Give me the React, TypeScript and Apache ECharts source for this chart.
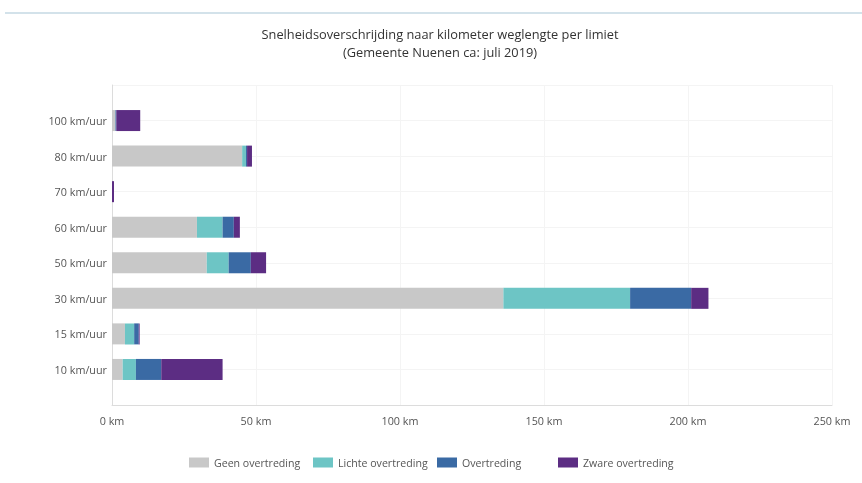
import React, { useEffect, useRef } from "react";
import * as echarts from "echarts";

const categories = ["10 km/uur", "15 km/uur", "30 km/uur", "50 km/uur", "60 km/uur", "70 km/uur", "80 km/uur", "100 km/uur"];
const geen = [3.7, 4.5, 135.9, 32.9, 29.5, 0, 45.2, 1.2];
const lichte = [4.6, 3.2, 44.0, 7.6, 8.9, 0, 1.3, 0];
const overtreding = [8.8, 1.6, 21.2, 7.7, 3.9, 0, 0.4, 0.3];
const zware = [21.3, 0.3, 6.0, 5.3, 2.1, 0.7, 1.7, 8.3];
const xTicks = [0, 50, 100, 150, 200, 250];

const seriesNames = ["Geen overtreding", "Lichte overtreding", "Overtreding", "Zware overtreding"];
const colors = ["#c8c8c8", "#6dc5c5", "#3a6aa4", "#5c2d83"];
const legendLefts = [189, 313, 437, 558];

export default function App() {
  const ref = useRef<HTMLDivElement>(null);
  useEffect(() => {
    if (!ref.current) return;
    const chart = echarts.init(ref.current, null, { renderer: "svg" });
    const font = "'Open Sans', 'Noto Sans', sans-serif";
    const pad = (arr: number[]) => [null, ...arr.map((v) => (v === 0 ? null : v)), null];
    const allData = [geen, lichte, overtreding, zware];
    chart.setOption({
      animation: false,
      textStyle: { fontFamily: font },
      title: {
        text: "Snelheidsoverschrijding naar kilometer weglengte per limiet",
        subtext: "(Gemeente Nuenen ca: juli 2019)",
        left: 440,
        top: 26,
        textAlign: "center",
        itemGap: 2,
        padding: 0,
        textStyle: { fontSize: 12.8, fontWeight: "normal", color: "#333", fontFamily: font, lineHeight: 16 },
        subtextStyle: { fontSize: 12.8, color: "#333", fontFamily: font, lineHeight: 16 },
      },
      legend: seriesNames.map((n, i) => ({
        data: [n],
        left: legendLefts[i],
        top: 457,
        padding: 0,
        itemWidth: 20,
        itemHeight: 10,
        itemGap: 5,
        icon: "rect",
        textStyle: { fontSize: 10.6, color: "#555", fontFamily: font },
      })),
      grid: { left: 112, right: 30, top: 85, bottom: 78, containLabel: false },
      xAxis: {
        type: "value",
        min: xTicks[0],
        max: xTicks[xTicks.length - 1],
        interval: 50,
        axisLine: { show: true, lineStyle: { color: "#dcdcdc" } },
        axisTick: { show: false },
        axisLabel: { formatter: "{value} km", fontSize: 10.8, color: "#555", margin: 10, fontFamily: font },
        splitLine: { show: true, lineStyle: { color: "#f4f4f4" } },
      },
      yAxis: {
        type: "category",
        data: ["", ...categories, ""],
        boundaryGap: false,
        axisLine: { show: true, lineStyle: { color: "#dcdcdc" } },
        axisTick: { show: false },
        axisLabel: { fontSize: 10.8, color: "#555", margin: 5, fontFamily: font },
        splitLine: { show: true, lineStyle: { color: "#f4f4f4" } },
      },
      graphic: [
        { type: "line", shape: { x1: 5, y1: 13, x2: 862, y2: 13 }, style: { stroke: "#d3e2ea", lineWidth: 2 } },
      ],
      series: seriesNames.map((n, i) => ({
        name: n,
        type: "bar",
        stack: "total",
        barWidth: 21,
        itemStyle: { color: colors[i] },
        data: pad(allData[i]),
      })),
    });
    return () => chart.dispose();
  }, []);
  return <div ref={ref} style={{ position: "fixed", left: 0, top: 0, width: 862, height: 483 }} />;
}
